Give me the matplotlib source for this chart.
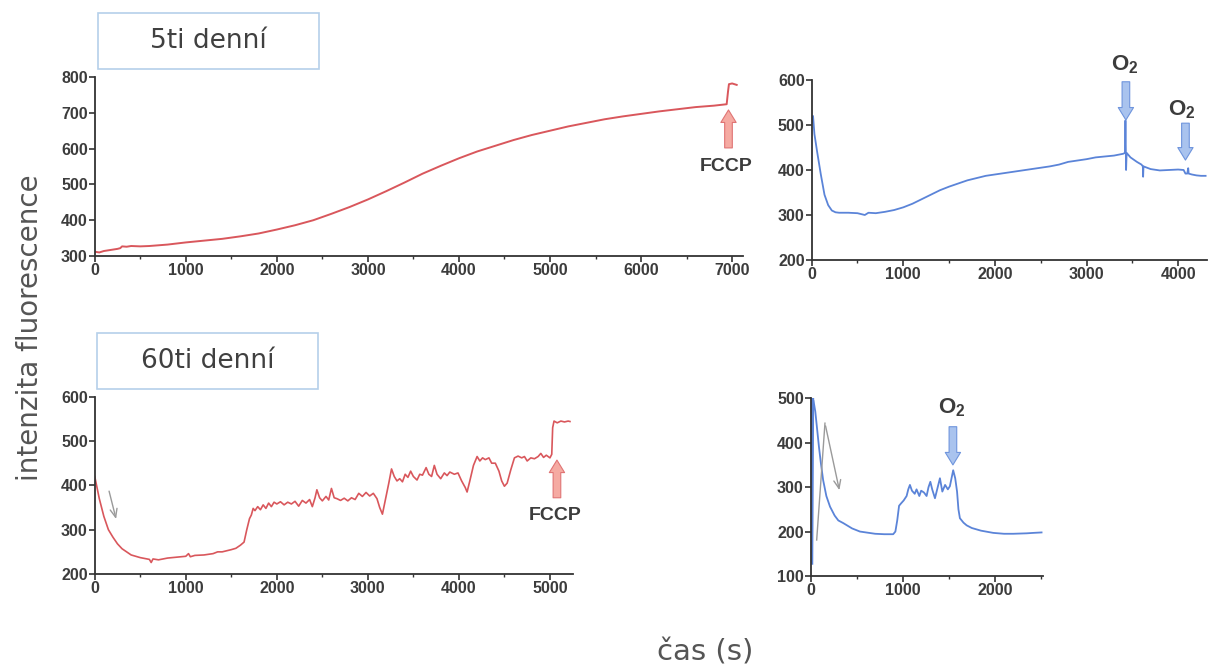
import matplotlib
matplotlib.use("Agg")
import matplotlib.pyplot as plt
from matplotlib.patches import Rectangle
from matplotlib.ticker import MultipleLocator

plt.rcParams['mathtext.fontset'] = 'custom'
plt.rcParams['mathtext.bf'] = 'Liberation Sans:bold'
plt.rcParams['mathtext.rm'] = 'Liberation Sans:bold'

RED = '#d9575c'
BLUE = '#5b84d8'
TXT = '#3c3c3c'

# 5ti denní - FCCP
t5_red = [0, 50, 100, 150, 200, 250, 280, 300, 350, 400, 500, 600, 700, 800, 900, 1000,
          1200, 1400, 1600, 1800, 2000, 2200, 2400, 2600, 2800, 3000, 3200, 3400, 3600,
          3800, 4000, 4200, 4400, 4600, 4800, 5000, 5200, 5400, 5600, 5800, 6000, 6200,
          6400, 6600, 6800, 6940, 6955, 6965, 7000, 7050]
f5_red = [312, 310, 314, 316, 318, 320, 322, 327, 326, 328, 327, 328, 330, 332, 335, 338,
          343, 348, 355, 363, 374, 386, 400, 418, 437, 458, 481, 505, 530,
          552, 573, 592, 608, 624, 638, 650, 662, 672, 682, 690, 697, 704,
          710, 716, 720, 724, 760, 780, 782, 778]

# 5ti denní - O2
t5_blue = [0, 15, 30, 60, 100, 140, 180, 220, 260, 300, 400, 500, 580, 620, 700, 800, 900,
           1000, 1100, 1200, 1300, 1400, 1500, 1600, 1700, 1800, 1900, 2000, 2100, 2200,
           2300, 2400, 2500, 2600, 2700, 2800, 2900, 3000, 3100, 3200, 3300, 3400, 3420,
           3425, 3432, 3438, 3480, 3550, 3600, 3615, 3618, 3622, 3700, 3800, 3900, 4000,
           4060, 4080, 4100, 4110, 4115, 4150, 4200, 4250, 4300]
f5_blue = [505, 520, 480, 440, 390, 345, 322, 310, 306, 305, 305, 304, 300, 305, 304, 307, 311,
           317, 325, 335, 345, 355, 363, 370, 377, 382, 387, 390, 393, 396,
           399, 402, 405, 408, 412, 418, 421, 424, 428, 430, 432, 436, 438,
           510, 400, 438, 428, 418, 412, 408, 385, 408, 402, 399, 400, 401,
           400, 392, 392, 404, 392, 390, 388, 387, 387]

# 60ti denní - FCCP
t60_red = [0, 20, 50, 100, 150, 200, 250, 300, 350, 400, 450, 500, 550, 600, 620, 640, 700,
           800, 900, 1000, 1030, 1050, 1100, 1200, 1300, 1350, 1400, 1500, 1550, 1600, 1640,
           1670, 1700, 1720, 1740, 1760, 1790, 1820, 1850, 1880, 1910, 1940, 1970, 2000,
           2040, 2080, 2120, 2160, 2200, 2240, 2280, 2320, 2360, 2390, 2420, 2440, 2470,
           2500, 2540, 2570, 2600, 2630, 2660, 2700, 2740, 2780, 2820, 2860, 2900, 2940,
           2980, 3020, 3060, 3100, 3130, 3160, 3190, 3230, 3260, 3290, 3320, 3350, 3380,
           3410, 3440, 3470, 3500, 3540, 3570, 3600, 3640, 3670, 3700, 3730, 3760, 3800,
           3840, 3870, 3900, 3950, 3990, 4030, 4070, 4090, 4120, 4160, 4200, 4230, 4260,
           4290, 4330, 4360, 4400, 4440, 4470, 4500, 4530, 4570, 4610, 4650, 4690, 4720,
           4750, 4790, 4830, 4870, 4900, 4930, 4960, 5000, 5020, 5030, 5045, 5080, 5120,
           5160, 5200, 5220]
f60_red = [420, 400, 370, 330, 300, 283, 268, 257, 250, 243, 240, 237, 235, 233, 226, 234, 232,
           236, 238, 240, 246, 239, 242, 243, 246, 250, 250, 255, 258, 265, 272,
           300, 325, 333, 348, 343, 352, 345, 356, 348, 360, 352, 362, 358,
           363, 356, 362, 358, 364, 353, 366, 360, 368, 352, 372, 390, 372,
           365, 375, 367, 393, 372, 370, 366, 371, 365, 372, 368, 382, 375,
           384, 376, 382, 370, 350, 335, 365, 405, 437, 420, 410, 415, 408,
           425, 418, 432, 420, 412, 425, 423, 440, 425, 420, 445, 425, 415,
           428, 422, 430, 425, 428, 410, 395, 385, 410, 445, 465, 455, 462,
           458, 462, 450, 450, 432, 410, 398, 405, 435, 462, 466, 462, 465,
           455, 462, 460, 465, 472, 463, 468, 462, 470, 530, 545, 541, 545,
           543, 545, 544]

# 60ti denní - O2
t60_blue = [5, 15, 30, 50, 70, 90, 110, 135, 170, 210, 260, 300, 354, 450, 535, 700, 800, 896,
            920, 940, 960, 980, 1010, 1042, 1060, 1078, 1100, 1130, 1150, 1180, 1200, 1230,
            1259, 1280, 1300, 1320, 1350, 1380, 1404, 1430, 1460, 1490, 1512, 1530, 1548,
            1570, 1590, 1605, 1621, 1660, 1694, 1750, 1850, 1983, 2100, 2200, 2345, 2420, 2508]
f60_blue = [130, 500, 495, 470, 430, 390, 355, 316, 280, 256, 236, 225, 219, 207, 200, 195, 194, 194,
            200, 225, 258, 263, 270, 280, 295, 305, 292, 285, 295, 280, 292, 288,
            280, 300, 312, 295, 275, 300, 320, 290, 305, 295, 302, 320, 338,
            320, 290, 250, 230, 220, 214, 208, 202, 197, 195, 195, 196, 197, 198]


def style_axes(ax, xlim, ylim, ystep):
    ax.set_xlim(*xlim)
    ax.set_ylim(*ylim)
    ax.xaxis.set_major_locator(MultipleLocator(1000))
    ax.xaxis.set_minor_locator(MultipleLocator(500))
    ax.yaxis.set_major_locator(MultipleLocator(ystep))
    for s in ['top', 'right']:
        ax.spines[s].set_visible(False)
    for s in ['left', 'bottom']:
        ax.spines[s].set_color('#333333')
        ax.spines[s].set_linewidth(1.3)
    ax.tick_params(which='major', direction='out', length=4, width=1.2, colors='#333333',
                   labelcolor=TXT, pad=1)
    ax.tick_params(which='minor', direction='out', length=2.5, width=1.0, colors='#333333')
    for lab in ax.get_xticklabels() + ax.get_yticklabels():
        lab.set_fontfamily('Liberation Sans')
        lab.set_fontweight('bold')
        lab.set_fontsize(11.5)
    ax.patch.set_alpha(0)


def block_arrow(ax, tip, tail, fc, ec):
    ax.annotate('', xy=tip, xytext=tail, annotation_clip=False,
                arrowprops=dict(arrowstyle='simple,head_width=1.1,head_length=0.9,tail_width=0.55',
                                fc=fc, ec=ec, lw=0.8, shrinkA=0, shrinkB=0))


fig = plt.figure(figsize=(12.1, 6.72), dpi=100)

ax1 = fig.add_axes([0.0783, 0.619, 0.5358, 0.2664])
ax2 = fig.add_axes([0.6708, 0.6131, 0.3267, 0.2679])
ax3 = fig.add_axes([0.0783, 0.1458, 0.395, 0.2639])
ax4 = fig.add_axes([0.6700, 0.1429, 0.1917, 0.2644])

ax1.plot(t5_red, f5_red, color=RED, lw=1.4)
ax2.plot(t5_blue, f5_blue, color=BLUE, lw=1.3)
ax3.plot(t60_red, f60_red, color=RED, lw=1.2)
ax4.plot(t60_blue, f60_blue, color=BLUE, lw=1.3)
ax4.plot(t60_blue[:2], f60_blue[:2], color=BLUE, lw=3)

style_axes(ax1, (0, 7120), (300, 800), 100)
style_axes(ax2, (0, 4315), (200, 600), 100)
style_axes(ax3, (0, 5250), (200, 600), 100)
style_axes(ax4, (0, 2520), (100, 500), 100)

bold = dict(fontfamily='Liberation Sans', fontweight='bold', color=TXT, ha='center')

# FCCP arrows
block_arrow(ax1, (6960, 708), (6960, 602), '#f5aaa2', '#e07474')
ax1.text(6930, 550, 'FCCP', fontsize=14, va='center', **bold)
block_arrow(ax3, (5077, 457), (5077, 372), '#f5aaa2', '#e07474')
ax3.text(5060, 333, 'FCCP', fontsize=14, va='center', **bold)

# O2 arrows
block_arrow(ax2, (3430, 511), (3430, 596), '#a9c3ee', '#6f95dd')
ax2.text(3421, 633, r'$\mathbf{O_2}$', fontsize=16, va='center', clip_on=False, **bold)
block_arrow(ax2, (4080, 422), (4080, 504), '#a9c3ee', '#6f95dd')
ax2.text(4039, 533, r'$\mathbf{O_2}$', fontsize=16, va='center', clip_on=False, **bold)
block_arrow(ax4, (1545, 350), (1545, 436), '#a9c3ee', '#6f95dd')
ax4.text(1530, 478, r'$\mathbf{O_2}$', fontsize=16, va='center', clip_on=False, **bold)

# thin grey arrows
ax3.annotate('', xy=(242, 318), xytext=(150, 393),
             arrowprops=dict(arrowstyle='->,head_width=0.25,head_length=0.6', color='#9a9a9a', lw=1.0))
ax4.plot([65, 155], [181, 444], color='#9a9a9a', lw=1.0)
ax4.annotate('', xy=(318, 287), xytext=(155, 444),
             arrowprops=dict(arrowstyle='->,head_width=0.25,head_length=0.6', color='#9a9a9a', lw=1.0))

# group labels in boxes
for (x0, y0, label) in [(98, 13, '5ti denní'), (97, 333, '60ti denní')]:
    w, h = 221, 56
    fig.patches.append(Rectangle((x0 / 1210, 1 - (y0 + h) / 672), w / 1210, h / 672,
                                 transform=fig.transFigure, fc='white', ec='#b5d0ea', lw=1.2))
    fig.text((x0 + w / 2) / 1210, 1 - (y0 + h / 2) / 672, label, fontsize=19,
             fontfamily='DejaVu Sans', color='#404040', ha='center', va='center')

fig.text(30 / 1210, 1 - 328 / 672, 'intenzita fluorescence', rotation=90, fontsize=20,
         fontfamily='DejaVu Sans', color='#555555', ha='center', va='center')
fig.text(705 / 1210, 1 - 652 / 672, 'čas (s)', fontsize=21,
         fontfamily='DejaVu Sans', color='#555555', ha='center', va='center')

fig.savefig('out.png', dpi=100)
